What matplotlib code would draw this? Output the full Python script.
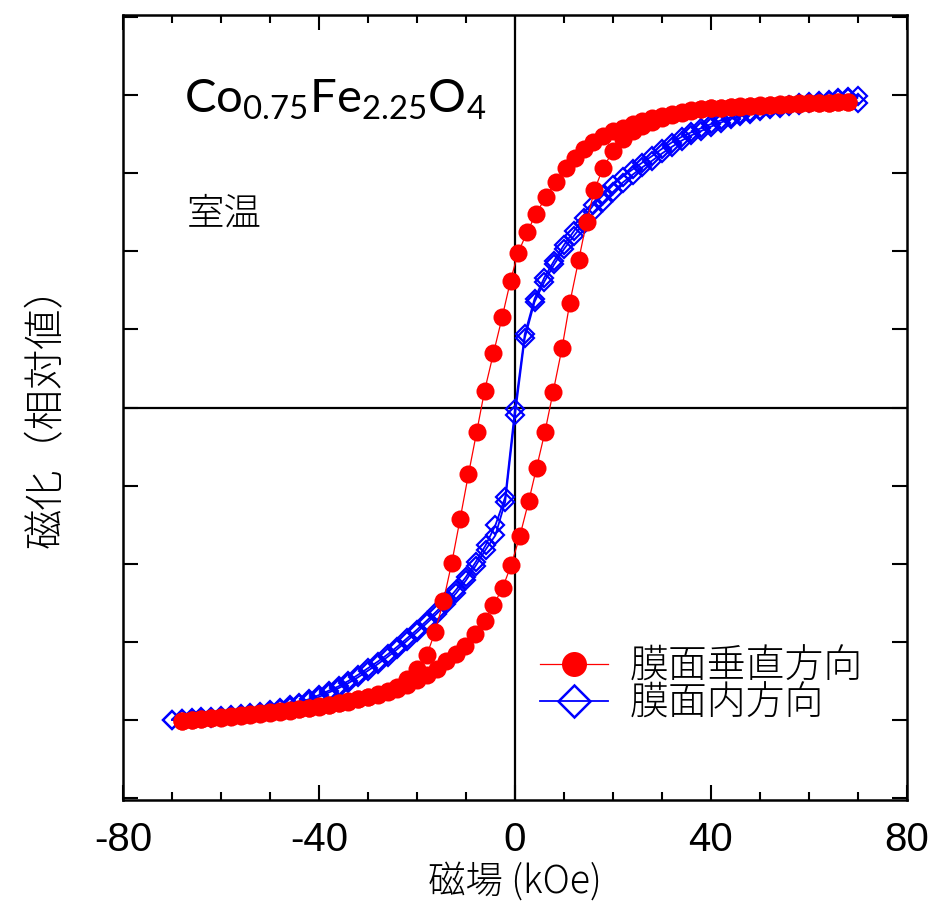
import matplotlib
matplotlib.use("Agg")
import matplotlib.pyplot as plt
from matplotlib.lines import Line2D
from matplotlib.ticker import MultipleLocator

plt.rcParams['font.family'] = ['Noto Sans CJK JP', 'DejaVu Sans']
plt.rcParams['mathtext.fontset'] = 'custom'
plt.rcParams['mathtext.rm'] = 'Lato'
plt.rcParams['mathtext.default'] = 'regular'

# perpendicular to film: field sweep down (+68 -> -68)
red_down_h = [68, 66, 64, 62, 60, 58, 56, 54, 52, 50, 48, 46, 44, 42, 40, 38, 36, 34, 32, 30,
              28, 26, 24, 22, 20, 18, 16, 14,
              12.2, 10.4, 8.3, 6.3, 4.3, 2.5, 0.6, -0.9, -2.6, -4.4, -6.2, -7.8, -9.5, -11.2,
              -12.9, -14.6, -16.3, -18, -19.9,
              -22, -24, -26, -28, -30, -32, -34, -36, -38, -40, -42, -44, -46, -48, -50, -52,
              -54, -56, -58, -60, -62, -64, -66, -68]
red_down_m = [0.978, 0.977, 0.976, 0.974, 0.973, 0.972, 0.970, 0.969, 0.968, 0.966, 0.965, 0.963,
              0.962, 0.960, 0.958, 0.955, 0.951, 0.946, 0.940, 0.933, 0.926, 0.917, 0.906, 0.895,
              0.884, 0.869, 0.849, 0.826,
              0.800, 0.768, 0.722, 0.674, 0.620, 0.562, 0.494, 0.406, 0.290, 0.173, 0.054, -0.077,
              -0.214, -0.357, -0.497, -0.619, -0.718, -0.792, -0.838,
              -0.870, -0.893, -0.908, -0.918, -0.926, -0.933, -0.940, -0.946, -0.951, -0.956,
              -0.961, -0.965, -0.969, -0.972, -0.975, -0.978, -0.981, -0.984, -0.987, -0.990,
              -0.993, -0.996, -0.999, -1.002]

# perpendicular to film: field sweep up (-68 -> +68)
red_up_h = [-68, -66, -64, -62, -60, -58, -56, -54, -52, -50, -48, -46, -44, -42, -40, -38, -36,
            -34, -32, -30, -28, -26, -24, -22, -20, -18, -16, -14,
            -12, -10.1, -8.1, -6.2, -4.4, -2.5, -0.8, 1.0, 2.8, 4.4, 6.1, 7.8, 9.6, 11.2, 13,
            14.6, 16.2, 18, 20,
            22, 24, 26, 28, 30, 32, 34, 36, 38, 40, 42, 44, 46, 48, 50, 52, 54, 56, 58, 60, 62,
            64, 66, 68]
red_up_m = [-1.004, -1.001, -0.998, -0.995, -0.992, -0.989, -0.986, -0.983, -0.980, -0.977,
            -0.974, -0.970, -0.966, -0.962, -0.957, -0.952, -0.947, -0.941, -0.934, -0.927,
            -0.919, -0.911, -0.900, -0.889, -0.873, -0.857, -0.837, -0.812,
            -0.790, -0.763, -0.726, -0.683, -0.633, -0.576, -0.505, -0.411, -0.300, -0.193,
            -0.079, 0.051, 0.190, 0.336, 0.472, 0.593, 0.695, 0.768, 0.820,
            0.858, 0.884, 0.900, 0.914, 0.926, 0.936, 0.944, 0.950, 0.954, 0.957, 0.960, 0.962,
            0.964, 0.966, 0.967, 0.969, 0.970, 0.971, 0.973, 0.974, 0.975, 0.976, 0.977, 0.979]

# in-plane: field values shared by both sweeps
blue_h = [-70, -68, -66, -64, -62, -60, -58, -56, -54, -52, -50, -48, -46, -44, -42, -40, -38,
          -36, -34, -32, -30, -28, -26, -24, -22, -20, -18, -16, -14, -12, -10, -8, -6, -4, -2,
          0, 2, 4, 6, 8, 10, 12, 14, 16, 18, 20, 22, 24, 26, 28, 30, 32, 34, 36, 38, 40, 42, 44,
          46, 48, 50, 52, 54, 56, 58, 60, 62, 64, 66, 68, 70]
blue_up_m = [-1.000, -0.998, -0.996, -0.994, -0.992, -0.989, -0.987, -0.984, -0.981, -0.977,
             -0.972, -0.966, -0.958, -0.949, -0.939, -0.926, -0.912, -0.898, -0.882, -0.863,
             -0.842, -0.821, -0.798, -0.773, -0.746, -0.719, -0.690, -0.660, -0.629, -0.594,
             -0.553, -0.506, -0.455, -0.409, -0.302,
             -0.025,
             0.222, 0.338, 0.403, 0.458, 0.507, 0.549, 0.588, 0.625, 0.657, 0.690, 0.720, 0.745,
             0.769, 0.790, 0.813, 0.834, 0.854, 0.871, 0.885, 0.899, 0.912, 0.923, 0.932, 0.940,
             0.948, 0.954, 0.960, 0.965, 0.969, 0.973, 0.978, 0.982, 0.986, 0.991, 0.997]
blue_down_m = [-0.999, -0.996, -0.994, -0.991, -0.989, -0.986, -0.984, -0.981, -0.978, -0.974,
               -0.968, -0.961, -0.953, -0.944, -0.933, -0.920, -0.906, -0.892, -0.875, -0.855,
               -0.834, -0.813, -0.790, -0.765, -0.738, -0.711, -0.682, -0.652, -0.620, -0.583,
               -0.542, -0.494, -0.441, -0.377, -0.287,
               -0.005,
               0.235, 0.348, 0.416, 0.470, 0.520, 0.564, 0.606, 0.648, 0.680, 0.712, 0.739, 0.762,
               0.784, 0.805, 0.828, 0.848, 0.866, 0.881, 0.894, 0.907, 0.919, 0.929, 0.938, 0.946,
               0.953, 0.959, 0.964, 0.969, 0.973, 0.977, 0.981, 0.985, 0.989, 0.993, 0.975]

x_ticks = [-80, -40, 0, 40, 80]
x_ticklabels = ['-80', '-40', '0', '40', '80']
label_perp = '膜面垂直方向'
label_inplane = '膜面内方向'

fig = plt.figure(figsize=(9.33, 9.11), dpi=100)
ax = fig.add_axes([0.1318, 0.1218, 0.8403, 0.8617])

ax.axhline(0, color='black', lw=1.6, zorder=1)
ax.axvline(0, color='black', lw=1.6, zorder=1)

blue_style = dict(color='#0000ff', lw=1.3, marker='D', ms=9.5, mfc='none', mec='#0000ff',
                  mew=1.6, zorder=2)
ax.plot(blue_h[::-1], blue_down_m[::-1], **blue_style)
ax.plot(blue_h, blue_up_m, **blue_style)

red_style = dict(color='#ff0000', lw=0.9, marker='o', ms=13, mfc='#ff0000', mec='none', zorder=3)
ax.plot(red_down_h, red_down_m, **red_style)
ax.plot(red_up_h, red_up_m, **red_style)

ax.set_xlim(-80, 80)
ax.set_ylim(-1.256, 1.256)
ax.set_xticks(x_ticks, x_ticklabels)
ax.xaxis.set_minor_locator(MultipleLocator(10))
ax.yaxis.set_major_locator(MultipleLocator(0.25))
ax.tick_params(which='both', direction='in', top=True, right=True, width=1.5)
ax.tick_params(which='major', length=11)
ax.tick_params(which='minor', length=6)
ax.tick_params(axis='x', pad=15)
ax.set_yticklabels([])
for s in ax.spines.values():
    s.set_linewidth(1.8)

for t in ax.get_xticklabels():
    t.set_fontfamily(['Liberation Sans Narrow', 'Liberation Sans'])
    t.set_fontsize(29)

ax.set_xlabel('磁場 (kOe)', fontsize=27, fontweight='light', labelpad=2)
ax.set_ylabel('磁化（相対値）', fontsize=29, fontweight='light', labelpad=36)

ax.text(-67.5, 0.985, r'Co$_{0.75}$Fe$_{2.25}$O$_4$', fontsize=34, fontfamily='Lato',
        va='center', ha='left')
ax.text(-67, 0.62, '室温', fontsize=27, fontweight='light', va='center', ha='left')

handles = [Line2D([], [], color='#ff0000', lw=0.9, marker='o', ms=18, mfc='#ff0000', mec='none'),
           Line2D([], [], color='#0000ff', lw=1.3, marker='D', ms=16, mfc='none',
                  mec='#0000ff', mew=1.8)]
leg = ax.legend(handles, [label_perp, label_inplane], loc='upper left',
                bbox_to_anchor=(0.532, 0.195), frameon=False, handlelength=1.75,
                handletextpad=0.55, labelspacing=-0.06, borderpad=0, borderaxespad=0,
                prop={'size': 28, 'weight': 'light'})

fig.savefig('out.png', dpi=100)
